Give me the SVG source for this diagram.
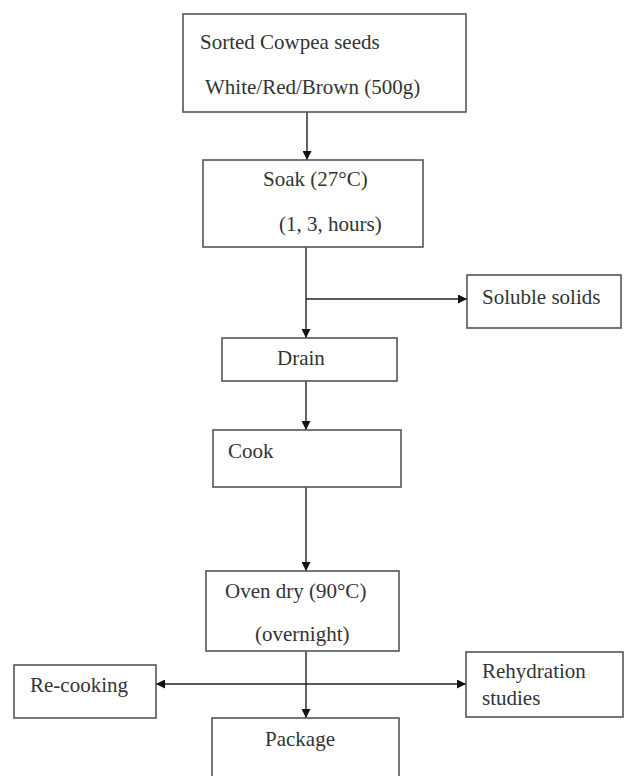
<svg xmlns="http://www.w3.org/2000/svg" width="625" height="776" viewBox="0 0 625 776">
<defs>
<style>
.box{fill:#fff;stroke:#555;stroke-width:1.6}
.t{font-family:"Liberation Serif","Times New Roman",serif;font-size:21px;fill:#333}
.c{fill:none;stroke:#222;stroke-width:1.4}
</style>
<marker id="ah" viewBox="0 0 10 10" refX="10" refY="5" markerWidth="9" markerHeight="9" markerUnits="userSpaceOnUse" orient="auto">
<path d="M0,0 L10,5 L0,10 z" fill="#111"/>
</marker>
</defs>
<rect width="625" height="776" fill="#fff"/>
<g id="connectors">
<line class="c" x1="307" y1="112" x2="307" y2="160" marker-end="url(#ah)"/>
<line class="c" x1="306" y1="247" x2="306" y2="338" marker-end="url(#ah)"/>
<line class="c" x1="306" y1="299" x2="467" y2="299" marker-end="url(#ah)"/>
<line class="c" x1="306" y1="381" x2="306" y2="430" marker-end="url(#ah)"/>
<line class="c" x1="306" y1="487" x2="306" y2="571" marker-end="url(#ah)"/>
<line class="c" x1="306" y1="651" x2="306" y2="718" marker-end="url(#ah)"/>
<line class="c" x1="306" y1="684" x2="156" y2="684" marker-end="url(#ah)"/>
<line class="c" x1="306" y1="684" x2="466" y2="684" marker-end="url(#ah)"/>
</g>
<g id="sorted">
<rect class="box" x="183" y="14" width="283" height="98"/>
<text class="t" x="200" y="49">Sorted Cowpea seeds</text>
<text class="t" x="205" y="94">White/Red/Brown (500g)</text>
</g>
<g id="soak">
<rect class="box" x="203" y="160" width="220" height="87"/>
<text class="t" x="263" y="186">Soak (27°C)</text>
<text class="t" x="279" y="231">(1, 3, hours)</text>
</g>
<g id="soluble">
<rect class="box" x="467" y="275" width="154" height="53"/>
<text class="t" x="482" y="304">Soluble solids</text>
</g>
<g id="drain">
<rect class="box" x="222" y="338" width="175" height="43"/>
<text class="t" x="277" y="365">Drain</text>
</g>
<g id="cook">
<rect class="box" x="213" y="430" width="188" height="57"/>
<text class="t" x="228" y="458">Cook</text>
</g>
<g id="oven">
<rect class="box" x="206" y="571" width="193" height="80"/>
<text class="t" x="225" y="598">Oven dry (90°C)</text>
<text class="t" x="255" y="641">(overnight)</text>
</g>
<g id="recooking">
<rect class="box" x="14" y="665" width="142" height="53"/>
<text class="t" x="30" y="692">Re-cooking</text>
</g>
<g id="rehydration">
<rect class="box" x="466" y="652" width="157" height="65"/>
<text class="t" x="482" y="678">Rehydration</text>
<text class="t" x="482" y="705">studies</text>
</g>
<g id="package">
<rect class="box" x="212" y="718" width="187" height="70"/>
<text class="t" x="265" y="746">Package</text>
</g>
</svg>
